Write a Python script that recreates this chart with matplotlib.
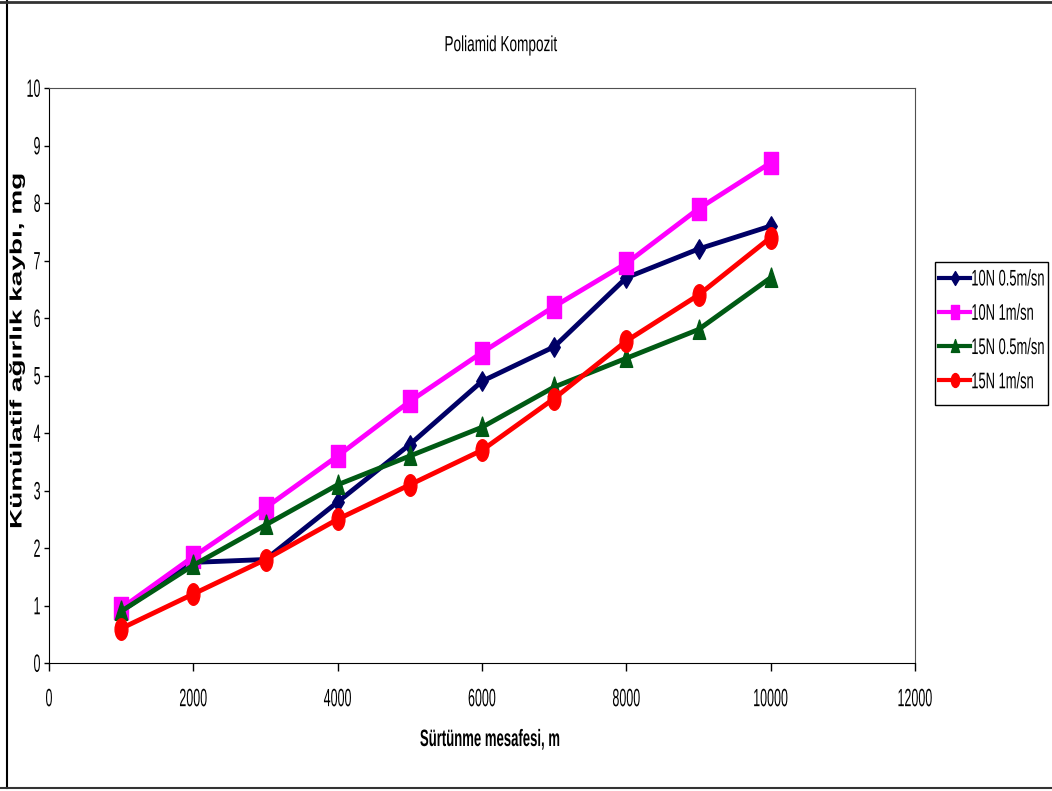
import numpy as np
import matplotlib
matplotlib.use('Agg')
import matplotlib.pyplot as plt
import matplotlib.patheffects as pe
from matplotlib.path import Path
from matplotlib.patches import Rectangle
from matplotlib.transforms import Affine2D
from matplotlib.lines import Line2D

# DATA
distance = [1000, 2000, 3000, 4000, 5000, 6000, 7000, 8000, 9000, 10000]
loss_10N_05 = [0.9, 1.75, 1.8, 2.8, 3.8, 4.9, 5.5, 6.7, 7.2, 7.6]
loss_10N_1 = [0.95, 1.85, 2.7, 3.6, 4.55, 5.4, 6.2, 6.95, 7.9, 8.7]
loss_15N_05 = [0.9, 1.7, 2.4, 3.1, 3.6, 4.1, 4.8, 5.3, 5.8, 6.7]
loss_15N_1 = [0.6, 1.2, 1.8, 2.5, 3.1, 3.7, 4.6, 5.6, 6.4, 7.4]
series_labels = ['10N 0.5m/sn', '10N 1m/sn', '15N 0.5m/sn', '15N 1m/sn']
x_ticks = [0, 2000, 4000, 6000, 8000, 10000, 12000]
y_ticks = [0, 1, 2, 3, 4, 5, 6, 7, 8, 9, 10]

# STYLE
STRETCH = 1.68   # markers are drawn taller than wide
FONT = ['Liberation Sans', 'DejaVu Sans']
W, H = 1052, 791


class Tall(pe.AbstractPathEffect):
    """Stretch a text path vertically (in display space) about its centre."""
    def __init__(self, k=STRETCH):
        super().__init__()
        self.k = k

    def draw_path(self, renderer, gc, tpath, affine, rgbFace=None):
        v = tpath.vertices
        cx, cy = affine.transform((v.min(0) + v.max(0)) / 2)
        t = affine + Affine2D().translate(-cx, -cy).scale(1, self.k).translate(cx, cy)
        renderer.draw_path(gc, tpath, t, rgbFace)


def tall(verts):
    verts = np.asarray(verts, float) * [1, STRETCH]
    codes = [Path.MOVETO] + [Path.LINETO] * (len(verts) - 2) + [Path.CLOSEPOLY]
    return Path(verts, codes)


circle = Path.unit_circle()
m_circle = Path(circle.vertices * [1, STRETCH], circle.codes)
m_square = tall([(-1, -1), (1, -1), (1, 1), (-1, 1), (-1, -1)])
m_diamond = tall([(0, -1), (1.0, 0), (0, 1), (-1.0, 0), (0, -1)])
m_triangle = tall([(0, 1), (1, -0.85), (-1, -0.85), (0, 1)])

series = [loss_10N_05, loss_10N_1, loss_15N_05, loss_15N_1]
colors = ['#000066', '#ff00ff', '#005a14', '#ff0000']
markers = [m_diamond, m_square, m_triangle, m_circle]
msizes = [14, 16, 15, 15.5]

# PRESENTATION
fig = plt.figure(figsize=(W / 100, H / 100), dpi=100)
ax = fig.add_axes([49/W, 1 - 663/H, 866/W, 575/H])

handles = []
for y, c, m, ms, lab in zip(series, colors, markers, msizes, series_labels):
    h, = ax.plot(distance, y, '-', color=c, lw=3.5, marker=m, markersize=ms,
                 markerfacecolor=c, markeredgecolor=c, label=lab)
    handles.append(h)

ax.set_xlim(0, 12000)
ax.set_ylim(0, 10)
ax.set_xticks(x_ticks)
ax.set_yticks(y_ticks)
ax.tick_params(axis='x', direction='out', length=6, width=1, pad=15.5)
ax.tick_params(axis='y', direction='out', length=3.6, width=1, pad=2.5)
for lab in ax.get_xticklabels() + ax.get_yticklabels():
    lab.set_family(FONT)
    lab.set_fontsize(9)
    lab.set_path_effects([Tall(2.0)])
for s in ['top', 'right']:
    ax.spines[s].set_color('#505050')
for s in ['left', 'bottom']:
    ax.spines[s].set_color('black')

fig.text(501/W, 1 - 45/H, 'Poliamid Kompozit', ha='center', va='center',
         family=FONT, fontsize=9.8, path_effects=[Tall(1.6)])
fig.text(490/W, 1 - 740/H, 'Sürtünme mesafesi, m', ha='center', va='center',
         family=FONT, fontsize=9.45, fontweight='bold', path_effects=[Tall(1.8)])
fig.text(17/W, 1 - 352/H, 'Kümülatif ağırlık kaybı, mg', ha='center', va='center',
         rotation=90, family=FONT, fontsize=12, fontweight='bold',
         path_effects=[Tall(1.68)])

# legend: frame drawn separately, entries placed inside it
fig.add_artist(Rectangle((935/W, 1 - 405/H), 113/W, 143/H, transform=fig.transFigure,
                         facecolor='white', edgecolor='black', lw=1))
leg = fig.legend(handles, series_labels, loc='upper left',
                 bbox_to_anchor=(939/W, 1 - 273/H), frameon=False,
                 borderpad=0, borderaxespad=0, labelspacing=1.72,
                 handlelength=2.4, handletextpad=0.1,
                 prop={'family': FONT, 'size': 9.3})
for t in leg.get_texts():
    t.set_path_effects([Tall(1.75)])
for h in leg.legend_handles:
    h.set_markersize(10)
    h.set_linewidth(3)

# outer frame
fig.add_artist(Line2D([6.5/W, 6.5/W], [1 - 788/H, 1], color='black', lw=1.5))
fig.add_artist(Line2D([0, 1], [1 - 1.5/H, 1 - 1.5/H], color='#333333', lw=2))
fig.add_artist(Line2D([0, 1], [1 - 788/H, 1 - 788/H], color='#333333', lw=1.5))

fig.savefig('out.png', dpi=100)
